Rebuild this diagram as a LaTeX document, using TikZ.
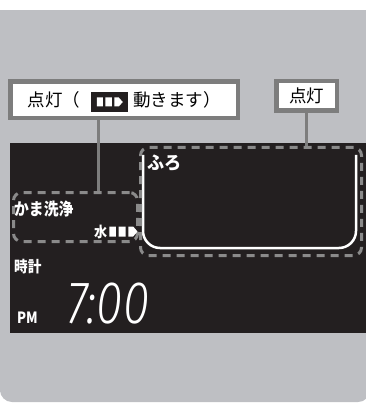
\documentclass[tikz,border=0pt]{standalone}
\usepackage{fontspec}
\setmainfont{Noto Sans CJK JP}
\newfontfamily\clockfont{Fira Sans Light Italic}
\usetikzlibrary{calc}
\definecolor{panelgray}{RGB}{190,191,195}
\definecolor{lcdblack}{RGB}{35,31,32}
\definecolor{framegray}{RGB}{125,125,125}
\definecolor{dashgray}{RGB}{138,138,138}

\begin{document}
\begin{tikzpicture}[x=1pt, y=-1pt, every node/.style={inner sep=0pt}]
\tikzset{label/.style={draw=framegray, line width=4.5pt, fill=white, font=\fontsize{17.5}{17.5}\selectfont}}
\tikzset{area/.style={draw=dashgray, line width=3pt, dash pattern=on 8pt off 6pt, rounded corners=8pt}}
\tikzset{lead/.style={framegray, line width=3pt}}
\tikzset{lcd/.style={text=white, anchor=west, font=\bfseries\fontsize{#1}{#1}\selectfont}}
\tikzset{flowicon/.pic={\fill[white] (0,-5) rectangle (6,5) (8.5,-5) rectangle (15,5);
  \fill[white] (17.5,-5) -- (22,-5) -- (26,0) -- (22,5) -- (17.5,5) -- cycle;}}
\useasboundingbox (0,0) rectangle (365,403);
\fill[panelgray] (0,10) rectangle (370,390);
\fill[panelgray, rounded corners=12pt] (0,380) rectangle (370,402);
\fill[lcdblack] (10,143) rectangle (370,333);
\draw[white, line width=2.5pt, rounded corners=17pt] (143,155) -- (143,248) -- (356,248) -- (356,155);
\node[area, minimum width=124pt, minimum height=49pt] (area1) at (75.5,217) {};
\node[area, minimum width=221pt, minimum height=108pt] (area2) at (251,201.5) {};
\node[lcd=18, xscale=.95] (furo) at (147,163.5) {ふろ};
\node[lcd=17, xscale=.87] (kama) at (14,209.5) {かま洗浄};
\node[lcd=14.5, xscale=.9] (water) at (94,231.5) {水};
\pic[xscale=1.08] at ($(water.east)+(2,0)$) {flowicon};
\node[lcd=15.5, xscale=.88] (clock) at (14,266.5) {時計};
\node[lcd=15.5, xscale=.85] (pm) at (17,317.5) {PM};
\node[text=white, anchor=west, font=\clockfont\fontsize{60}{60}\selectfont, xscale=.8] (time) at (67,304) {7:00};
\node[label, minimum width=227.5pt, minimum height=36.5pt] (lbl1) at (124,100) {点灯（\hspace{53pt}動きます）};
\node[fill=lcdblack, minimum width=37pt, minimum height=20pt] (icon1) at (109.5,102) {};
\pic[yscale=.9] at ($(icon1.west)+(6,0)$) {flowicon};
\node[label, minimum width=60.5pt, minimum height=29.5pt] (lbl2) at (306.5,96) {点灯};
\coordinate (tap1) at (98,0);
\draw[lead] (lbl1.south -| tap1) -- (area1.north -| tap1);
\draw[lead] (lbl2.south) -- (lbl2.south |- area2.north);
\end{tikzpicture}
\end{document}
